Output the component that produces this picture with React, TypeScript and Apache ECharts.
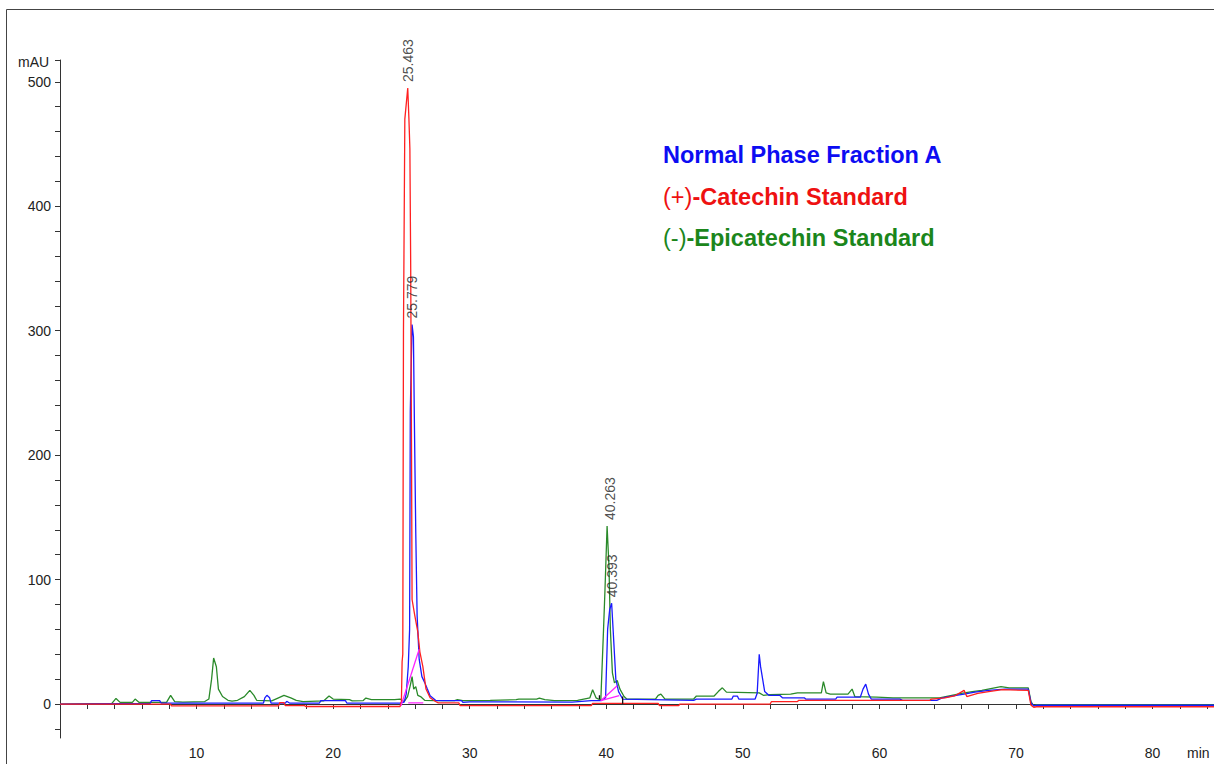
import React, { useEffect, useRef } from "react";
import * as echarts from "echarts";

// ---- axes ----
const X_MIN = 0;
const X_MAX = 84.5;
const Y_MIN = -27.3;
const Y_MAX = 517.5;
const xLabelValues = [10, 20, 30, 40, 50, 60, 70, 80];
const xTickValues = [2, 4, 6, 8, 10, 12, 14, 16, 18, 20, 22, 24, 26, 28, 30, 32, 34, 36, 38, 40, 42, 44, 46, 48, 50, 52, 54, 56, 58, 60, 62, 64, 66, 68, 70, 72, 74, 76, 78, 80, 82, 84];
const yLabelValues = [0, 100, 200, 300, 400, 500];
const yTickValues = [-20, 0, 20, 40, 60, 80, 100, 120, 140, 160, 180, 200, 220, 240, 260, 280, 300, 320, 340, 360, 380, 400, 420, 440, 460, 480, 500, 517.5];

// ---- traces: [time (min), absorbance (mAU)] ----
const epicatechin: [number, number][] = [
  [0, 0], [3.8, 0.5], [4.1, 4.5], [4.4, 1.3], [5.3, 1.3], [5.5, 4], [5.8, 1.3], [7.8, 1.3], [8.1, 7], [8.4, 2],
  [9.0, 1.5], [10.6, 2], [10.9, 4], [11.1, 20], [11.25, 37], [11.45, 30], [11.6, 12], [11.9, 6], [12.3, 3], [12.6, 2.4],
  [13.0, 3], [13.5, 6], [13.9, 11], [14.2, 7], [14.4, 3], [15.5, 2.5], [16.0, 5], [16.4, 7], [16.9, 5], [17.3, 3],
  [17.8, 2], [19.3, 2.5], [19.7, 6.5], [20.0, 4], [21.2, 3.5], [21.4, 2.5], [22.2, 2.8], [22.4, 4.8], [22.8, 3.5],
  [24.5, 3.5], [24.9, 4], [25.2, 2], [25.45, 6], [25.65, 15], [25.78, 22], [25.9, 12], [26.05, 14], [26.2, 7],
  [26.4, 6], [26.7, 3], [27.5, 2.7], [28.9, 2.8], [29.1, 3.5], [29.5, 2.8], [31.5, 3], [33.4, 3.5], [33.6, 4],
  [34.9, 4], [35.1, 4.8], [35.5, 3.5], [36.2, 2.7], [37.9, 3], [38.8, 5], [39.0, 11.5], [39.25, 5], [39.6, 3],
  [39.8, 60], [39.9, 90], [40.06, 143], [40.2, 110], [40.3, 60], [40.45, 25], [40.6, 17], [40.8, 19], [41.0, 12],
  [41.3, 6], [41.5, 4], [43.6, 4], [43.8, 7], [44.0, 8], [44.3, 4], [46.4, 4], [46.6, 6.4], [47.9, 6.4], [48.2, 10],
  [48.5, 13], [48.8, 9.6], [51.2, 9], [51.5, 7], [52.0, 7.5], [53.5, 8], [54.0, 9], [55.75, 9], [55.9, 18], [56.1, 9],
  [56.4, 8], [57.7, 8], [58.0, 12], [58.2, 6], [59.8, 5.6], [61.0, 5], [64.4, 5], [65.3, 7], [66.0, 8.5], [66.8, 10],
  [67.5, 11], [68.9, 14], [69.5, 13], [70.9, 13], [71.1, 2], [71.3, -1.6], [71.5, -0.5], [84.5, -0.5],
];

const fractionA: [number, number][] = [
  [0, 0], [6.6, 0.5], [6.7, 2.7], [7.3, 2.7], [7.4, 0.8], [14.9, 0.8], [15.0, 5], [15.15, 7], [15.35, 5], [15.45, 0.8],
  [16.5, 0.8], [16.6, 2.2], [16.8, 0.8], [19.0, 0.8], [19.1, 2.7], [20.9, 2.7], [21.0, 0.8], [24.9, 0.8], [25.2, 1.5],
  [25.35, 8], [25.5, 30], [25.6, 60], [25.65, 235], [25.779, 305], [25.88, 295], [25.95, 227], [26.05, 138],
  [26.15, 71], [26.3, 36], [26.5, 22], [26.7, 17.4], [26.9, 12], [27.1, 6.7], [27.5, 3], [28.0, 2.7], [29.4, 2.7],
  [29.5, 1.3], [30.0, 1.8], [37.5, 1.5], [38.9, 2.7], [39.6, 2.7], [39.95, 5], [40.1, 60], [40.25, 76], [40.393, 81],
  [40.5, 60], [40.6, 40], [40.7, 20], [40.9, 10], [41.2, 4], [46.4, 3], [46.6, 4], [49.2, 4], [49.3, 6.4], [49.6, 6.4],
  [49.7, 4], [50.9, 4], [51.05, 8.6], [51.2, 40], [51.3, 30], [51.45, 20], [51.6, 10], [51.9, 7], [52.7, 7], [52.9, 5],
  [54.5, 5], [54.6, 4], [56.8, 4], [56.9, 5.5], [58.6, 5.5], [58.8, 12], [59.0, 16], [59.2, 8], [59.4, 4], [61.5, 4],
  [61.7, 3], [64.2, 3], [64.6, 5], [65.4, 6.5], [66.2, 8], [67.0, 9.5], [68.0, 11], [69.2, 12], [70.9, 12], [71.1, 1],
  [71.3, -1.5], [71.5, -1], [84.5, -1],
];

const catechin: [number, number][] = [
  [0, 0], [8.1, 0], [8.15, -1.5], [16.0, -1.5], [16.1, 1.2], [16.4, 1.2], [16.5, -1.3], [17.9, -1.3], [18.0, -2],
  [24.9, -2], [25.0, 2], [25.05, 34], [25.1, 40], [25.15, 300], [25.25, 470], [25.463, 495], [25.55, 470],
  [25.62, 446], [25.68, 350], [25.74, 200], [25.78, 84], [25.98, 71], [26.2, 58], [26.35, 42], [26.57, 30],
  [26.8, 12], [27.1, 5], [27.5, 2], [27.7, 0.9], [29.2, 0.9], [29.3, -1.3], [38.9, -1.3], [39.0, 0.5], [43.8, 0.5],
  [43.9, -1.3], [45.3, -1.3], [45.4, 0], [52.0, 0], [52.1, 2], [54.0, 2], [54.1, 3], [63.7, 3], [63.8, 4], [64.8, 5],
  [65.5, 6.5], [66.2, 11], [66.4, 6], [66.7, 7], [67.2, 8.5], [68.0, 10], [69.0, 11.5], [70.9, 11], [71.1, -1],
  [71.3, -2.6], [71.5, -2.2], [84.5, -2.2],
];

// integration baselines (magenta) and event marks (black): segments of two points each
const baselineSegments: [number, number][][] = [
  [[24.97, -1.5], [26.3, 44]],
  [[25.5, 1], [26.6, 1]],
  [[39.6, 2.7], [40.8, 14.7]],
  [[39.6, 2.7], [40.95, 6.7]],
];
const eventMarks: [number, number][][] = [
  [[41.2, 0.2], [41.2, 6]],
  [[39.5, 4], [39.5, 7]],
];

// peak annotations
const peakTimes = [25.463, 25.779, 40.263, 40.393];
const peakHeights = [495, 305, 143, 81];
const peakLabels = ["25.463", "25.779", "40.263", "40.393"];

// legend entries
const legendEntries = [
  { prefix: "", name: "Normal Phase Fraction A", color: "#0c0cf2" },
  { prefix: "(+)", name: "-Catechin Standard", color: "#ee1111" },
  { prefix: "(-)", name: "-Epicatechin Standard", color: "#1b861b" },
];

const COLOR_BLUE = "#1a1aff";
const COLOR_RED = "#ff2020";
const COLOR_GREEN = "#2a8a2a";
const COLOR_MAGENTA = "#ff22ff";
const FONT = "'Liberation Sans', Arial, sans-serif";

export default function App() {
  const ref = useRef<HTMLDivElement>(null);

  useEffect(() => {
    document.body.style.margin = "0";
    const chart = echarts.init(ref.current!, undefined, { renderer: "svg" });

    const lineSeries = (name: string, data: [number, number][], color: string, z: number) => ({
      type: "line",
      name,
      data,
      showSymbol: false,
      symbol: "none",
      lineStyle: { color, width: 1.3 },
      z,
      silent: true,
    });

    const option: any = {
      animation: false,
      backgroundColor: "#ffffff",
      grid: { left: 60, right: 0, top: 60, bottom: 26, containLabel: false },
      xAxis: {
        type: "value",
        min: X_MIN,
        max: X_MAX,
        axisLine: { show: true, lineStyle: { color: "#333", width: 1 } },
        axisTick: { show: true, length: 5, inside: false, customValues: xTickValues, lineStyle: { color: "#333" } },
        axisLabel: {
          show: true,
          customValues: xLabelValues,
          margin: 8,
          color: "#222",
          fontFamily: FONT,
          fontSize: 14,
        },
        splitLine: { show: false },
      },
      yAxis: {
        type: "value",
        min: Y_MIN,
        max: Y_MAX,
        axisLine: { show: true, lineStyle: { color: "#333", width: 1 } },
        axisTick: { show: true, length: 5, inside: false, customValues: yTickValues, lineStyle: { color: "#333" } },
        axisLabel: {
          show: true,
          customValues: yLabelValues,
          margin: 9,
          color: "#222",
          fontFamily: FONT,
          fontSize: 14,
        },
        splitLine: { show: false },
      },
      series: [
        lineSeries("(-)-Epicatechin Standard", epicatechin, COLOR_GREEN, 2),
        lineSeries("Normal Phase Fraction A", fractionA, COLOR_BLUE, 3),
        lineSeries("(+)-Catechin Standard", catechin, COLOR_RED, 4),
        ...baselineSegments.map((seg, i) => lineSeries("baseline" + i, seg, COLOR_MAGENTA, 5)),
        ...eventMarks.map((seg, i) => lineSeries("event" + i, seg, "#111", 6)),
        {
          type: "scatter",
          name: "peaks",
          data: peakTimes.map((t, i) => [t, peakHeights[i]]),
          symbolSize: 0,
          silent: true,
          z: 7,
          label: {
            show: true,
            position: "top",
            distance: 6,
            rotate: 90,
            align: "left",
            verticalAlign: "middle",
            color: "#222",
            fontFamily: FONT,
            fontSize: 14,
            formatter: (p: any) => peakLabels[p.dataIndex],
          },
        },
      ],
      graphic: [
        {
          type: "rect",
          silent: true,
          shape: { x: 6.5, y: 9.5, width: 1400, height: 900 },
          style: { fill: "none", stroke: "#444", lineWidth: 1 },
        },
        {
          type: "text",
          silent: true,
          x: 18,
          y: 62,
          style: { text: "mAU", fill: "#222", font: `14px ${FONT}`, verticalAlign: "middle" },
        },
        {
          type: "text",
          silent: true,
          x: 1187,
          y: 753,
          style: { text: "min", fill: "#222", font: `14px ${FONT}`, verticalAlign: "middle" },
        },
        ...legendEntries.map((e, i) => ({
          type: "text",
          silent: true,
          x: 663,
          y: 155 + i * 41.5,
          style: {
            text: (e.prefix ? `{p|${e.prefix}}` : "") + `{b|${e.name}}`,
            verticalAlign: "middle",
            rich: {
              p: { fill: e.color, fontFamily: FONT, fontSize: 23.5, fontWeight: "normal" },
              b: { fill: e.color, fontFamily: FONT, fontSize: 23.5, fontWeight: "bold" },
            },
          },
        })),
      ],
    };

    chart.setOption(option);
    return () => chart.dispose();
  }, []);

  return <div ref={ref} style={{ width: 1214, height: 764 }} />;
}
